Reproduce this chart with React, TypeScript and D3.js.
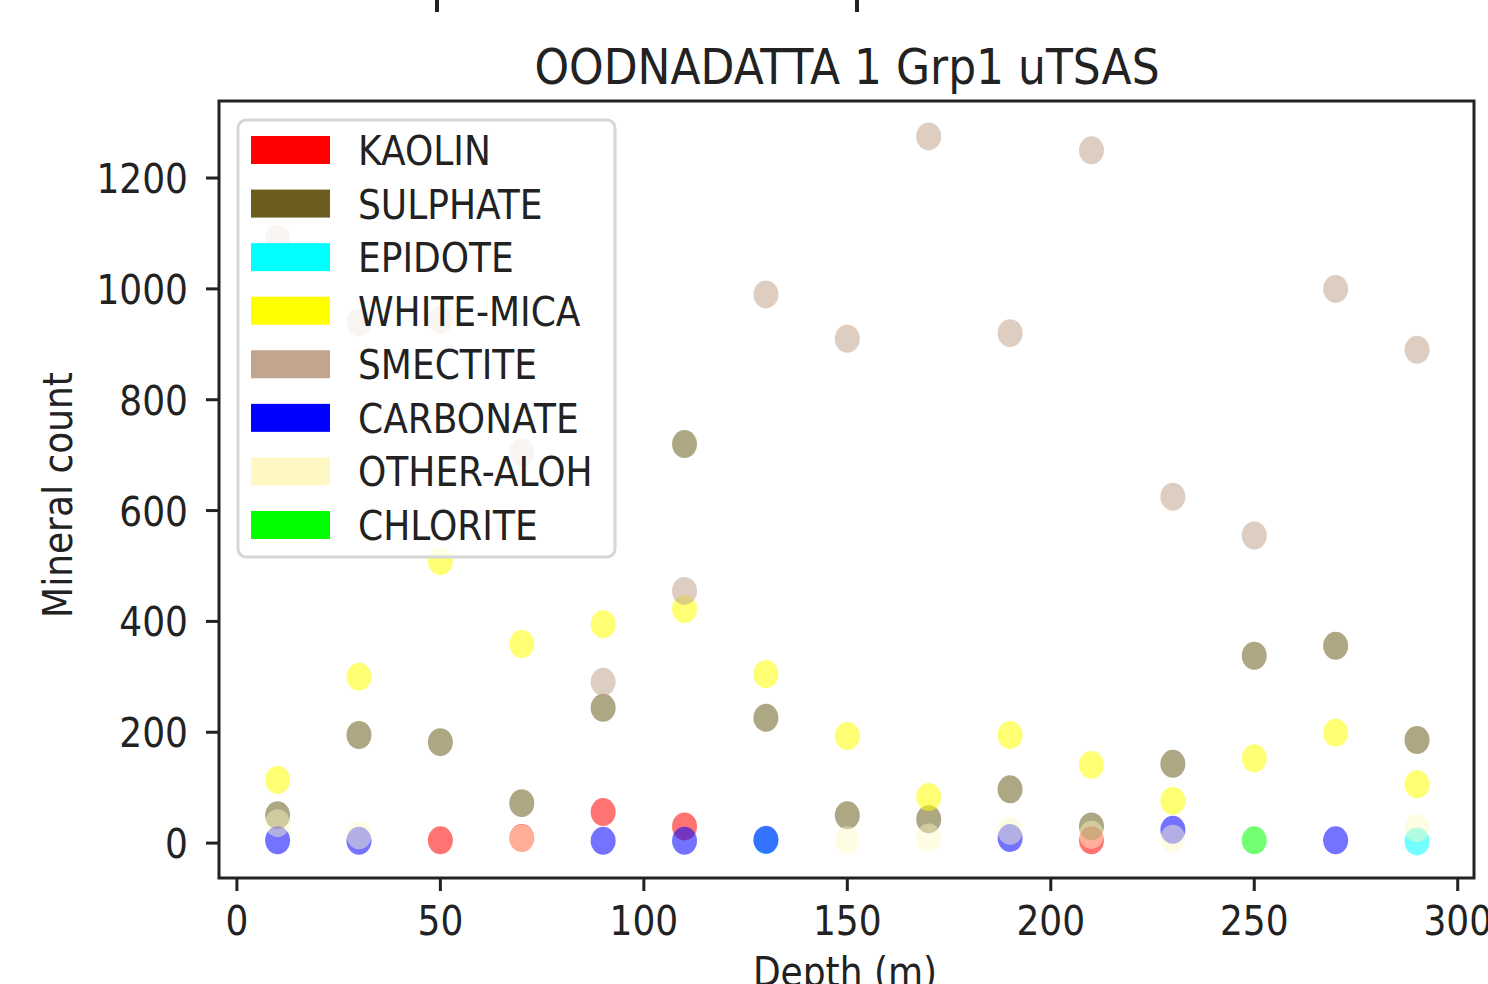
// @ts-nocheck
import * as d3 from 'd3';

const depths = [10, 30, 50, 70, 90, 110, 130, 150, 170, 190, 210, 230, 250, 270, 290];

const kaolin = [null, null, 5, 9, 56, 30, null, null, null, null, 5, null, null, null, null];
const sulphate = [50, 195, 182, 72, 244, 720, 226, 50, 43, 97, 30, 143, 338, 356, 186];
const epidote = [null, null, null, null, null, null, 5, null, null, null, null, null, null, null, 3];
const whiteMica = [114, 300, 509, 359, 395, 422, 305, 193, 83, 195, 141, 76, 153, 199, 106];
const smectite = [1090, 940, 944, 705, 291, 455, 990, 910, 1275, 920, 1250, 625, 555, 1000, 890];
const carbonate = [5, 4, null, null, 4, 4, 6, null, null, 9, null, 24, null, 5, null];
const otherAloh = [36, 14, null, 8, null, null, null, 5, 10, 22, 15, 8, null, null, 27];
const chlorite = [null, null, null, null, null, null, null, null, null, null, null, null, 5, null, null];

const minerals = ['KAOLIN', 'SULPHATE', 'EPIDOTE', 'WHITE-MICA', 'SMECTITE', 'CARBONATE', 'OTHER-ALOH', 'CHLORITE'];
const mineralColors = ['#ff0000', '#6b5e1e', '#00ffff', '#ffff00', '#c2a58f', '#0000ff', '#fff8c4', '#00ff00'];
const mineralValues = [kaolin, sulphate, epidote, whiteMica, smectite, carbonate, otherAloh, chlorite];

const xTicks = [0, 50, 100, 150, 200, 250, 300];
const yTicks = [0, 200, 400, 600, 800, 1000, 1200];

const W = 1488;
const H = 984;
const plot = { left: 219, right: 1474, top: 101, bottom: 878 };
const font = 'DejaVu Sans, sans-serif';
const ink = '#222';
const sy = 1.14; // picture is a little taller than wide

const x = d3.scaleLinear().domain([-4.4, 304]).range([plot.left, plot.right]);
const y = d3.scaleLinear().domain([-63, 1339]).range([plot.bottom, plot.top]);

const Label = ({ x: tx, y: ty, size = 36, anchor = 'start', rotate = 0, children }) => (
  <text
    transform={`translate(${tx},${ty}) rotate(${rotate}) scale(1,${sy})`}
    fontFamily={font}
    fontSize={size}
    fill={ink}
    textAnchor={anchor}
  >
    {children}
  </text>
);

export default function App() {
  const legendRows = d3.range(minerals.length);
  const rowY = d3.scaleLinear().domain([0, minerals.length - 1]).range([150, 525]);

  return (
    <svg
      width={W}
      height={H}
      style={{ position: 'absolute', left: 0, top: 0, background: '#fff' }}
    >
      <rect width={W} height={H} fill="#fff" />

      {/* bits of the text cut off above the figure */}
      <line x1={437} x2={437} y1={0} y2={12} stroke={ink} strokeWidth={4} />
      <line x1={857} x2={857} y1={0} y2={12} stroke={ink} strokeWidth={4} />

      <Label x={847} y={84} size={44} anchor="middle">OODNADATTA 1 Grp1 uTSAS</Label>

      {/* points */}
      <g>
        {mineralValues.map((vals, i) =>
          vals.map((v, j) =>
            v == null ? null : (
              <ellipse
                key={`${i}-${j}`}
                cx={x(depths[j])}
                cy={y(v)}
                rx={12.5}
                ry={14}
                fill={mineralColors[i]}
                fillOpacity={minerals[i] === 'OTHER-ALOH' ? 0.45 : 0.55}
              />
            )
          )
        )}
      </g>

      {/* frame */}
      <rect
        x={plot.left}
        y={plot.top}
        width={plot.right - plot.left}
        height={plot.bottom - plot.top}
        fill="none"
        stroke={ink}
        strokeWidth={3}
      />

      {/* x axis */}
      {xTicks.map((t) => (
        <g key={t}>
          <line x1={x(t)} x2={x(t)} y1={plot.bottom} y2={plot.bottom + 13} stroke={ink} strokeWidth={3} />
          <Label x={x(t)} y={935} anchor="middle">{t}</Label>
        </g>
      ))}
      <Label x={845} y={986} anchor="middle">Depth (m)</Label>

      {/* y axis */}
      {yTicks.map((t) => (
        <g key={t}>
          <line x1={plot.left - 13} x2={plot.left} y1={y(t)} y2={y(t)} stroke={ink} strokeWidth={3} />
          <Label x={188} y={y(t) + 15} anchor="end">{t}</Label>
        </g>
      ))}
      <Label x={72} y={495} anchor="middle" rotate={-90}>Mineral count</Label>

      {/* legend */}
      <rect x={238} y={120} width={377} height={437} rx={8} fill="#fff" fillOpacity={0.8} stroke="#d6d6d6" strokeWidth={3} />
      {legendRows.map((i) => (
        <g key={minerals[i]}>
          <rect x={251} y={rowY(i) - 14} width={79} height={28} fill={mineralColors[i]} />
          <Label x={358} y={rowY(i) + 15}>{minerals[i]}</Label>
        </g>
      ))}
    </svg>
  );
}
